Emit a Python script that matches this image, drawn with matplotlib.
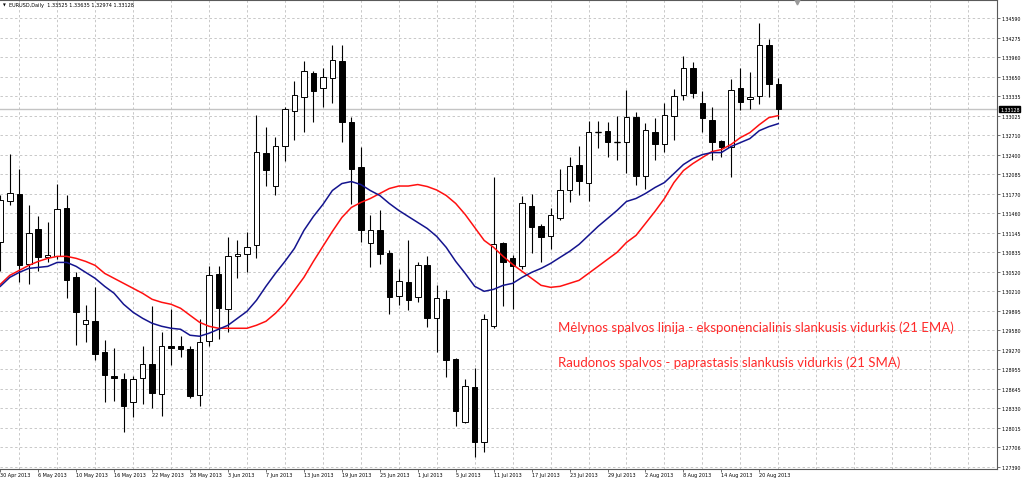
import matplotlib
matplotlib.use("Agg")
import matplotlib.pyplot as plt
import numpy as np

# EURUSD daily bars, 30 Apr 2013 .. 22 Aug 2013
opens = [1.30990, 1.31647, 1.31775, 1.30637, 1.31198, 1.30750, 1.30766, 1.31535, 1.30429, 1.29676,
         1.29724, 1.29228, 1.28843, 1.28795, 1.28427, 1.28811, 1.29035, 1.28555, 1.29324, 1.29324,
         1.29276, 1.28539, 1.29404, 1.30477, 1.29916, 1.30766, 1.30798, 1.30942, 1.32432, 1.31903,
         1.32544, 1.33105, 1.33329, 1.33713, 1.33473, 1.33633, 1.33906, 1.32928, 1.32207, 1.30974,
         1.31182, 1.30814, 1.30125, 1.30349, 1.30109, 1.30621, 1.29772, 1.30077, 1.29115, 1.28106,
         1.28667, 1.27786, 1.29644, 1.30974, 1.30734, 1.30605, 1.31567, 1.31246, 1.31086, 1.31374,
         1.31839, 1.32240, 1.31951, 1.32768, 1.32784, 1.32608, 1.32608, 1.33009, 1.32063, 1.32768,
         1.32576, 1.33025, 1.33361, 1.33794, 1.33233, 1.32960, 1.32624, 1.32528, 1.33473, 1.33297,
         1.33345, 1.34162, 1.33525]
highs = [1.31759, 1.32416, 1.32175, 1.31583, 1.31406, 1.31310, 1.31935, 1.31759, 1.30509, 1.29981,
         1.30269, 1.29420, 1.29292, 1.28891, 1.28843, 1.29324, 1.29965, 1.29548, 1.29916, 1.29484,
         1.29324, 1.29756, 1.30605, 1.30605, 1.31070, 1.31022, 1.31150, 1.33041, 1.32848, 1.32688,
         1.33169, 1.33585, 1.33906, 1.33746, 1.33794, 1.34162, 1.34162, 1.33009, 1.32528, 1.31438,
         1.31503, 1.30862, 1.30557, 1.31022, 1.30669, 1.30766, 1.30301, 1.30221, 1.29131, 1.28795,
         1.28971, 1.29836, 1.32047, 1.30990, 1.30782, 1.31727, 1.31775, 1.31278, 1.31535, 1.32175,
         1.32368, 1.32544, 1.32944, 1.32944, 1.32928, 1.33025, 1.33441, 1.33089, 1.32912, 1.32993,
         1.33233, 1.33457, 1.33986, 1.33890, 1.33425, 1.33169, 1.32640, 1.33617, 1.33794, 1.33729,
         1.34515, 1.34258, 1.33635]
lows = [1.30525, 1.31583, 1.30349, 1.30317, 1.30525, 1.30669, 1.30718, 1.30093, 1.29340, 1.29388,
        1.29099, 1.28427, 1.28443, 1.27946, 1.28186, 1.28394, 1.28330, 1.28202, 1.29019, 1.29147,
        1.28491, 1.28362, 1.29324, 1.29436, 1.29548, 1.30413, 1.30509, 1.30734, 1.31903, 1.31759,
        1.32304, 1.32640, 1.32768, 1.32928, 1.33169, 1.33233, 1.32608, 1.31599, 1.30990, 1.30589,
        1.30637, 1.29836, 1.29981, 1.29900, 1.30029, 1.29628, 1.29228, 1.28827, 1.28042, 1.28090,
        1.27545, 1.27625, 1.29612, 1.29965, 1.29916, 1.30557, 1.30814, 1.30669, 1.30878, 1.31342,
        1.31631, 1.31759, 1.31647, 1.32512, 1.32368, 1.32320, 1.32111, 1.31919, 1.31855, 1.32320,
        1.32448, 1.32640, 1.33281, 1.33313, 1.32768, 1.32320, 1.32368, 1.32047, 1.33121, 1.33137,
        1.33217, 1.33329, 1.32974]
closes = [1.31663, 1.31791, 1.30621, 1.31134, 1.30750, 1.30782, 1.31519, 1.30381, 1.29868, 1.29740,
          1.29196, 1.28859, 1.28811, 1.28362, 1.28795, 1.29035, 1.28571, 1.29324, 1.29292, 1.29276,
          1.28523, 1.29388, 1.30461, 1.29933, 1.30766, 1.30798, 1.30910, 1.32448, 1.32159, 1.32544,
          1.33137, 1.33361, 1.33746, 1.33425, 1.33649, 1.33922, 1.32928, 1.32175, 1.31182, 1.31182,
          1.30798, 1.30109, 1.30365, 1.30061, 1.30621, 1.29772, 1.30093, 1.29099, 1.28282, 1.28683,
          1.27786, 1.29756, 1.30958, 1.30669, 1.30605, 1.31615, 1.31230, 1.31070, 1.31422, 1.31839,
          1.32224, 1.31983, 1.32768, 1.32768, 1.32608, 1.32608, 1.33009, 1.32063, 1.32800, 1.32576,
          1.33041, 1.33345, 1.33794, 1.33393, 1.32993, 1.32608, 1.32528, 1.33441, 1.33249, 1.33329,
          1.34162, 1.33537, 1.33128]

# 21 EMA (blue) and 21 SMA (red) as drawn on the chart
ema21 = [1.30285, 1.30429, 1.30509, 1.30573, 1.30589, 1.30605, 1.30669, 1.30669, 1.30605, 1.30509,
         1.30413, 1.30285, 1.30173, 1.29997, 1.29868, 1.29772, 1.29692, 1.29644, 1.29612, 1.29596,
         1.29500, 1.29484, 1.29532, 1.29596, 1.29660, 1.29772, 1.29884, 1.30061, 1.30285, 1.30493,
         1.30685, 1.30894, 1.31182, 1.31406, 1.31599, 1.31823, 1.31935, 1.31967, 1.31919, 1.31823,
         1.31743, 1.31615, 1.31503, 1.31406, 1.31310, 1.31214, 1.31086, 1.30910, 1.30685, 1.30493,
         1.30285, 1.30205, 1.30237, 1.30301, 1.30333, 1.30429, 1.30509, 1.30573, 1.30653, 1.30750,
         1.30846, 1.30958, 1.31102, 1.31246, 1.31374, 1.31503, 1.31647, 1.31695, 1.31775, 1.31871,
         1.31951, 1.32095, 1.32240, 1.32336, 1.32400, 1.32432, 1.32432, 1.32528, 1.32592, 1.32656,
         1.32784, 1.32848, 1.32896]
sma21 = [1.30317, 1.30461, 1.30541, 1.30621, 1.30685, 1.30734, 1.30766, 1.30766, 1.30734, 1.30685,
         1.30621, 1.30493, 1.30413, 1.30333, 1.30253, 1.30173, 1.30077, 1.30029, 1.29997, 1.29933,
         1.29820, 1.29708, 1.29644, 1.29612, 1.29612, 1.29612, 1.29612, 1.29660, 1.29724, 1.29852,
         1.30013, 1.30221, 1.30429, 1.30685, 1.30926, 1.31166, 1.31390, 1.31551, 1.31631, 1.31695,
         1.31775, 1.31855, 1.31895, 1.31895, 1.31919, 1.31887, 1.31831, 1.31743, 1.31615, 1.31438,
         1.31230, 1.31022, 1.30910, 1.30766, 1.30637, 1.30525, 1.30413, 1.30301, 1.30269, 1.30285,
         1.30333, 1.30381, 1.30493, 1.30605, 1.30718, 1.30830, 1.30990, 1.31102, 1.31294, 1.31487,
         1.31695, 1.31951, 1.32143, 1.32256, 1.32352, 1.32448, 1.32480, 1.32560, 1.32672, 1.32752,
         1.32880, 1.32993, 1.33025]

date_labels = ["30 Apr 2013", "6 May 2013", "10 May 2013", "16 May 2013", "22 May 2013",
               "28 May 2013", "3 Jun 2013", "7 Jun 2013", "13 Jun 2013", "19 Jun 2013",
               "25 Jun 2013", "1 Jul 2013", "5 Jul 2013", "11 Jul 2013", "17 Jul 2013",
               "23 Jul 2013", "29 Jul 2013", "2 Aug 2013", "8 Aug 2013", "14 Aug 2013",
               "20 Aug 2013"]
price_ticks = [1.34590, 1.34275, 1.33960, 1.33650, 1.33335, 1.33025, 1.32710, 1.32400,
               1.32085, 1.31770, 1.31460, 1.31145, 1.30835, 1.30520, 1.30210, 1.29895,
               1.29580, 1.29270, 1.28955, 1.28645, 1.28330, 1.28015, 1.27706, 1.27390]
last_price = 1.33128
header = "EURUSD,Daily  1.33525 1.33635 1.32974 1.33128"
note_ema = "Mėlynos spalvos linija - eksponencialinis slankusis vidurkis (21 EMA)"
note_sma = "Raudonos spalvos - paprastasis slankusis vidurkis (21 SMA)"

W, H = 1024, 481
fig = plt.figure(figsize=(W / 100, H / 100), dpi=100)
ax = fig.add_axes([0, (H - 470) / H, 997 / W, 469 / H])

n = len(opens)
idx = np.arange(n)
o = np.array(opens)
c = np.array(closes)

# grid
for gx in range(2, 106, 4):
    ax.axvline(gx, color="#c8c8c8", lw=0.7, ls=(0, (2.5, 2.5)), zorder=0)
for gy in price_ticks:
    ax.axhline(gy, color="#c8c8c8", lw=0.7, ls=(0, (2.5, 2.5)), zorder=0)
ax.axhline(last_price, color="#c4c4c4", lw=1.0, zorder=1)

# candles
ax.vlines(idx, lows, highs, color="black", lw=0.8, zorder=2)
bull = c >= o
bottoms = np.minimum(o, c)
heights = np.abs(c - o)
ax.bar(idx, heights, bottom=bottoms, width=0.58,
       color=np.where(bull, "white", "black"), edgecolor="black", linewidth=0.7, zorder=3)
flat = heights == 0
ax.hlines(o[flat], idx[flat] - 0.32, idx[flat] + 0.32, color="black", lw=1.0, zorder=3)

# moving averages
ax.plot(idx, sma21, color="#ff1010", lw=1.1, zorder=4)
ax.plot(idx, ema21, color="#14148e", lw=1.1, zorder=4)

ax.set_xlim(-0.03, 105.05)
ax.set_ylim(1.27353, 1.34881)

for s in ["left"]:
    ax.spines[s].set_visible(False)
for s in ["top", "right", "bottom"]:
    ax.spines[s].set_color("#5a5a5a")
    ax.spines[s].set_linewidth(0.8)

ax.yaxis.tick_right()
ax.set_yticks(price_ticks)
ax.set_yticklabels([f"{v:.5f}" for v in price_ticks])
ax.tick_params(axis="y", length=2.2, width=0.6, pad=1.2, labelsize=3.4,
               colors="#5a5a5a", labelcolor="black")

ax.set_xticks(np.arange(0, 4 * len(date_labels), 4))
ax.set_xticklabels(date_labels)
ax.tick_params(axis="x", length=1.8, width=0.6, pad=0.6, labelsize=3.5,
               colors="#5a5a5a", labelcolor="black")
for lbl in ax.get_xticklabels():
    lbl.set_ha("left")

# header, price tag, chart shift marker
fig.text(3 / W, 1 - 5.5 / H, "▼", fontsize=2.6, va="center", ha="left")
fig.text(9 / W, 1 - 5.5 / H, header, fontsize=3.6, va="center", ha="left")
ylast = ax.transData.transform((0, last_price))[1]
fig.text(1000 / W, ylast / H, "1.33128", fontsize=3.4, color="white", va="center", ha="left",
         bbox=dict(boxstyle="square,pad=0.15", fc="black", ec="black"))
ax.plot([797 / 997], [0.995], marker="v", ms=3.5, color="#9a9a9a",
        transform=ax.transAxes, clip_on=False, zorder=5)

# notes
t1 = fig.text(558 / W, 1 - 328 / H, note_ema, color="#ff2b2b", fontsize=10,
              family=["Lato", "DejaVu Sans"], va="center", ha="left")
t2 = fig.text(558 / W, 1 - 363 / H, note_sma, color="#ff2b2b", fontsize=10,
              family=["Lato", "DejaVu Sans"], va="center", ha="left")
fig.canvas.draw()
r = fig.canvas.get_renderer()
k = 395 / t1.get_window_extent(r).width
t1.set_fontsize(10 * k)
t2.set_fontsize(10 * k)

fig.savefig("out.png", dpi=100)
